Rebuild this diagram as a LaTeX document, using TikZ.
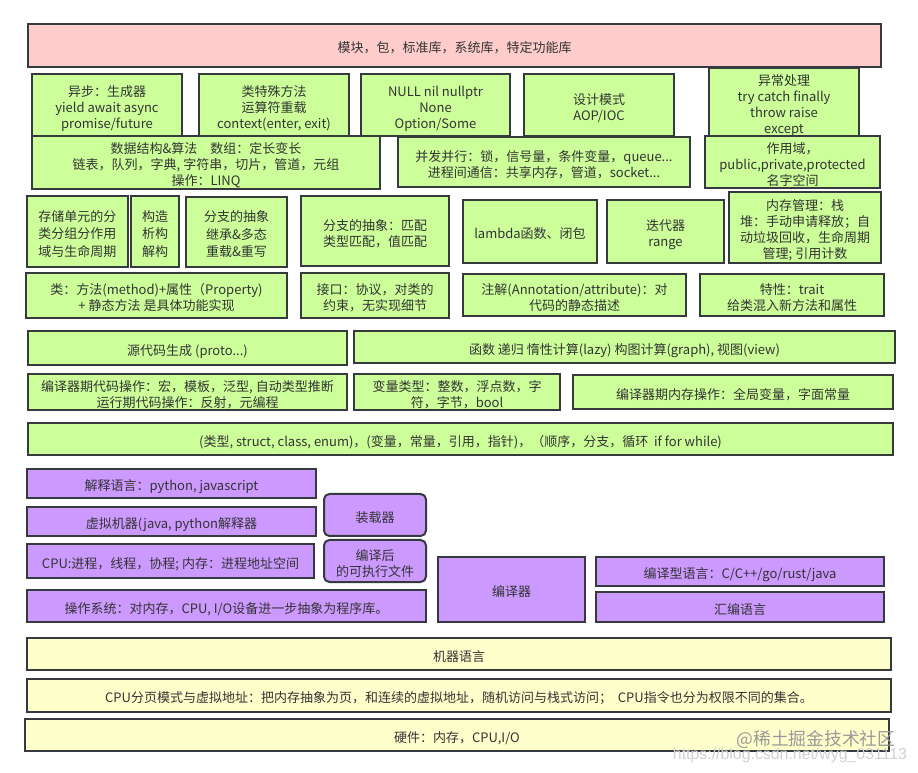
\documentclass[tikz,border=0pt]{standalone}
\usepackage{fontspec}
\setmainfont{Noto Sans CJK SC}
\newfontfamily\wmfont{Liberation Sans}
\definecolor{bd}{HTML}{36393D}
\definecolor{txt}{HTML}{333333}
\definecolor{gfill}{HTML}{CCFF99}
\definecolor{pfill}{HTML}{FFCCCC}
\definecolor{vfill}{HTML}{CC99FF}
\definecolor{yfill}{HTML}{FFFFCC}
\newcommand{\bx}[7]{\node[#6, minimum width={(#4-#2)*0.75pt}, minimum height={(#5-#3)*0.75pt}] (#1) at ({(#2+#4)/2},{(#3+#5)/2}) {\rule{0pt}{13.2pt}#7\rule[-2.5pt]{0pt}{0pt}};}
\tikzset{
  box/.style={draw=bd, line width=1.5pt, inner sep=0pt, outer sep=0pt, align=center, text=txt, font=\fontsize{9.75}{12}\selectfont},
  gbox/.style={box, fill=gfill},
  pbox/.style={box, fill=pfill},
  vbox/.style={box, fill=vfill},
  vrbox/.style={box, fill=vfill, rounded corners=4pt},
  ybox/.style={box, fill=yfill},
}
\begin{document}
\begin{tikzpicture}[x=0.75pt,y=-0.75pt]
\useasboundingbox (0,0) rectangle (918,773);
\fill[white] (0,0) rectangle (918,773);
% library
\bx{lib}{28}{24}{881}{67}{pbox}{模块，包，标准库，系统库，特定功能库}
% row 1
\bx{async}{32}{74}{182}{137}{gbox}{异步：生成器\\yield await async\\promise/future}
\bx{special}{199}{74}{349}{137}{gbox}{类特殊方法\\运算符重载\\context(enter, exit)}
\bx{null}{361}{74}{510}{136}{gbox}{NULL nil nullptr\\None\\Option/Some}
\bx{design}{524}{74}{674}{136}{gbox}{设计模式\\AOP/IOC}
\bx{except}{709}{71}{859}{133}{gbox}{异常处理\\try catch finally\\throw raise\\except}
% row 2
\bx{ds}{32}{139}{380}{186}{gbox}{数据结构\&算法\quad 数组：定长变长\\链表，队列，字典, 字符串，切片，管道，元组\\操作：LINQ}
\bx{conc}{398}{137}{690}{187}{gbox}{并发并行：锁，信号量，条件变量，queue...\\进程间通信：共享内存，管道，socket...}
\bx{scope}{705}{137}{880}{187}{gbox}{作用域，\\public,private,protected\\名字空间}
% row 3
\bx{store}{27}{196}{128}{267}{gbox, font=\fontsize{9.75}{13.2}\selectfont}{存储单元的分\\类分组分作用\\域与生命周期}
\bx{ctor}{131}{196}{179}{267}{gbox, font=\fontsize{9.75}{13.2}\selectfont}{构造\\析构\\解构}
\bx{inh}{186}{197}{287}{267}{gbox, font=\fontsize{9.75}{13.2}\selectfont}{分支的抽象\\继承\&多态\\重载\&重写}
\bx{match}{301}{196}{449}{266}{gbox}{分支的抽象：匹配\\类型匹配，值匹配}
\bx{lambda}{463}{200}{597}{263}{gbox}{lambda函数、闭包}
\bx{iter}{607}{200}{724}{263}{gbox}{迭代器\\range}
\bx{mem}{729}{192}{881}{263}{gbox}{内存管理：栈\\堆：手动申请释放；自\\动垃圾回收，生命周期\\管理; 引用计数}
% row 4
\bx{cls}{26}{273}{287}{318}{gbox}{类：方法(method)+属性（Property)\\+ 静态方法 是具体功能实现}
\bx{iface}{301}{273}{449}{318}{gbox}{接口：协议，对类的\\约束，无实现细节}
\bx{anno}{463}{274}{686}{316}{gbox}{注解(Annotation/attribute)：对\\代码的静态描述}
\bx{trait}{700}{274}{884}{316}{gbox}{特性：trait\\给类混入新方法和属性}
% row 5
\bx{gen}{28}{331}{347}{365}{gbox}{源代码生成 (proto...)}
\bx{func}{354}{331}{895}{363}{gbox}{函数 递归 惰性计算(lazy) 构图计算(graph), 视图(view)}
% row 6
\bx{meta}{28}{375}{347}{409}{gbox}{编译器期代码操作：宏，模板，泛型, 自动类型推断\\运行期代码操作：反射，元编程}
\bx{vars}{354}{375}{560}{409}{gbox}{变量类型：整数，浮点数，字\\符，字节，bool}
\bx{cmem}{573}{375}{893}{409}{gbox}{编译器期内存操作：全局变量，字面常量}
% row 7
\bx{basic}{28}{423}{893}{455}{gbox}{(类型, struct, class, enum)，(变量，常量，引用，指针)，（顺序，分支，循环\ \ if for while)}
% purple
\bx{interp}{27}{469}{316}{498}{vbox}{解释语言：python, javascript}
\bx{vm}{27}{507}{316}{536}{vbox}{虚拟机器(java, python解释器}
\bx{proc}{27}{544}{314}{578}{vbox}{CPU:进程，线程，协程; 内存：进程地址空间}
\bx{loader}{324}{494}{426}{536}{vrbox}{装载器}
\bx{exe}{324}{540}{426}{582}{vrbox}{编译后\\的可执行文件}
\bx{os}{27}{590}{426}{622}{vbox}{操作系统：对内存，CPU, I/O设备进一步抽象为程序库。}
\bx{compiler}{438}{557}{585}{622}{vbox}{编译器}
\bx{clang}{596}{557}{884}{586}{vbox}{编译型语言：C/C++/go/rust/java}
\bx{asm}{596}{592}{884}{622}{vbox}{汇编语言}
% yellow
\bx{ml}{27}{638}{891}{670}{ybox}{机器语言}
\bx{page}{27}{679}{891}{712}{ybox}{CPU分页模式与虚拟地址：把内存抽象为页，和连续的虚拟地址，随机访问与栈式访问；\ \ CPU指令也分为权限不同的集合。}
\bx{hw}{25}{719}{889}{751}{ybox}{硬件：内存，CPU,I/O}
% watermark
\node[text=black!40, font=\fontsize{13.3}{15}\selectfont, inner sep=0pt] (wm1) at (816,740) {@稀土掘金技术社区};
\node[text=black!18, font=\wmfont\fontsize{11.9}{13}\selectfont, inner sep=0pt] (wm2) at (790,755) {https://blog.csdn.net/wyg\_031113};
\end{tikzpicture}
\end{document}
